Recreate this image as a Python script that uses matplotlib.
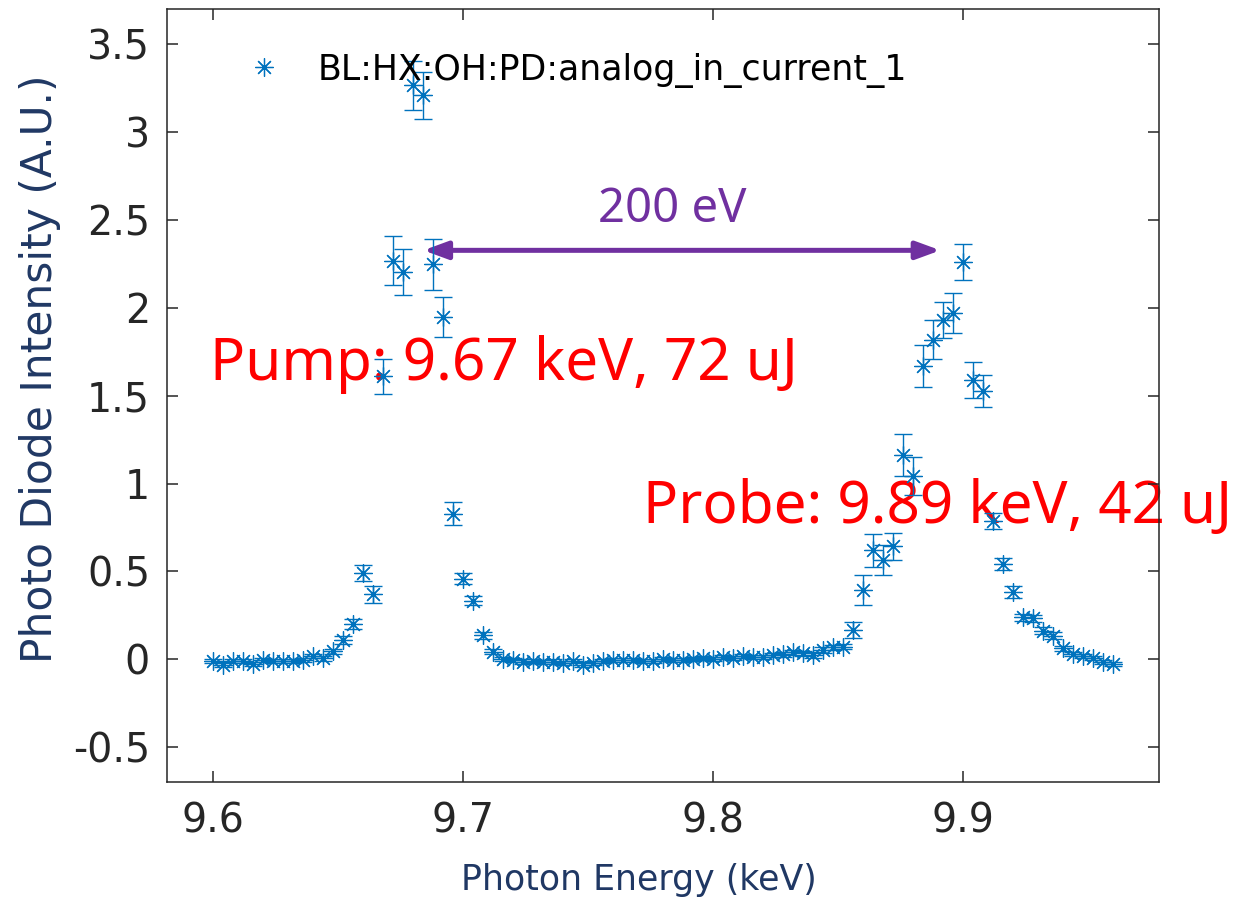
import matplotlib
matplotlib.use("Agg")
import matplotlib.pyplot as plt
from matplotlib.lines import Line2D

# DATA
energy = [9.600, 9.604, 9.608, 9.612, 9.616, 9.620, 9.624, 9.628, 9.632, 9.636,
          9.640, 9.644, 9.648, 9.652, 9.656, 9.660, 9.664, 9.668, 9.672, 9.676,
          9.680, 9.684, 9.688, 9.692, 9.696, 9.700, 9.704, 9.708, 9.712, 9.716,
          9.720, 9.724, 9.728, 9.732, 9.736, 9.740, 9.744, 9.748, 9.752, 9.756,
          9.760, 9.764, 9.768, 9.772, 9.776, 9.780, 9.784, 9.788, 9.792, 9.796,
          9.800, 9.804, 9.808, 9.812, 9.816, 9.820, 9.824, 9.828, 9.832, 9.836,
          9.840, 9.844, 9.848, 9.852, 9.856, 9.860, 9.864, 9.868, 9.872, 9.876,
          9.880, 9.884, 9.888, 9.892, 9.896, 9.900, 9.904, 9.908, 9.912, 9.916,
          9.920, 9.924, 9.928, 9.932, 9.936, 9.940, 9.944, 9.948, 9.952, 9.956,
          9.960]
intensity = [-0.010, -0.030, -0.010, -0.010, -0.025, -0.005, -0.010, -0.010, -0.010, -0.005,
             0.020, 0.005, 0.045, 0.110, 0.200, 0.490, 0.370, 1.610, 2.270, 2.205,
             3.267, 3.210, 2.250, 1.950, 0.830, 0.460, 0.333, 0.138, 0.043, 0.002,
             -0.004, -0.013, -0.010, -0.017, -0.013, -0.020, -0.010, -0.030, -0.020, -0.010,
             -0.004, -0.004, -0.004, -0.008, -0.010, 0.002, -0.004, -0.004, 0.002, 0.006,
             0.002, 0.013, 0.006, 0.017, 0.013, 0.013, 0.025, 0.028, 0.040, 0.034,
             0.024, 0.053, 0.068, 0.072, 0.167, 0.394, 0.620, 0.565, 0.644, 1.162,
             1.042, 1.670, 1.820, 1.930, 1.972, 2.262, 1.589, 1.528, 0.788, 0.542,
             0.385, 0.239, 0.233, 0.163, 0.133, 0.063, 0.030, 0.019, 0.006, -0.014,
             -0.027]
error = [0.012, 0.012, 0.012, 0.012, 0.012, 0.012, 0.012, 0.012, 0.012, 0.012,
         0.012, 0.012, 0.015, 0.020, 0.030, 0.045, 0.047, 0.097, 0.140, 0.130,
         0.140, 0.135, 0.145, 0.113, 0.064, 0.030, 0.025, 0.020, 0.015, 0.012,
         0.012, 0.012, 0.012, 0.012, 0.012, 0.012, 0.012, 0.012, 0.012, 0.012,
         0.012, 0.012, 0.012, 0.012, 0.012, 0.012, 0.012, 0.012, 0.012, 0.012,
         0.012, 0.012, 0.012, 0.012, 0.012, 0.012, 0.012, 0.012, 0.015, 0.015,
         0.015, 0.015, 0.015, 0.015, 0.047, 0.087, 0.095, 0.085, 0.076, 0.121,
         0.107, 0.118, 0.109, 0.102, 0.112, 0.104, 0.104, 0.093, 0.047, 0.035,
         0.035, 0.020, 0.020, 0.020, 0.020, 0.015, 0.012, 0.012, 0.012, 0.012,
         0.012]

legend_label = "BL:HX:OH:PD:analog_in_current_1"
xticks = [9.6, 9.7, 9.8, 9.9]
yticks = [-0.5, 0, 0.5, 1, 1.5, 2, 2.5, 3, 3.5]
arrow_ends = (9.6842, 9.8909)
arrow_y = 2.328

# STYLE
blue = "#0072BD"
dark = "#262626"
navy = "#203864"
purple = "#7030A0"
W, H = 1246, 901

plt.rcParams['axes.unicode_minus'] = False


def fpos(x, y):
    # pixel position in the reference -> figure fraction
    return x / W, 1 - y / H


fig = plt.figure(figsize=(W / 100, H / 100), dpi=100)
left, right, top, bottom = 166.7, 1159.3, 9.3, 782.3
ax = fig.add_axes([left / W, 1 - bottom / H, (right - left) / W, (bottom - top) / H])

asterisk = (8, 2, 0)
ax.errorbar(energy, intensity, yerr=error, fmt='none', ecolor=blue,
            elinewidth=1.0, capsize=6.5, capthick=1.0, zorder=4)
ax.plot(energy, intensity, linestyle='none', marker=asterisk, ms=13, mew=0.9,
        color=blue, zorder=5)

ax.set_xlim(9.5816, 9.9784)
ax.set_ylim(-0.7, 3.7)
ax.set_xticks(xticks)
ax.set_yticks(yticks)
ax.set_xticklabels([str(t) for t in xticks])
ax.set_yticklabels(["-0.5", "0", "0.5", "1", "1.5", "2", "2.5", "3", "3.5"])
ax.tick_params(direction='in', length=8, width=1.1, colors=dark, labelsize=28.5,
               top=True, right=True)
ax.tick_params(axis='y', pad=12)
ax.tick_params(axis='x', pad=14)
for s in ax.spines.values():
    s.set_color(dark)
    s.set_linewidth(1.1)

# legend (marker only, no frame)
h = Line2D([], [], linestyle='none', marker=asterisk, ms=13, mew=0.9, color=blue)
ax.legend([h], [legend_label], loc='center left', bbox_to_anchor=fpos(229, 70),
          bbox_transform=fig.transFigure, frameon=False, fontsize=25,
          handlelength=2, handletextpad=0.55, borderpad=0, borderaxespad=0)

# axis labels
fig.text(*fpos(40, 369), "Photo Diode Intensity (A.U.)", rotation=90, ha='center',
         va='center', fontsize=30.5, color=navy)
fig.text(*fpos(639, 880), "Photon Energy (keV)", ha='center', va='center',
         fontsize=25, color=navy)

# annotations (drawn under the data marks)
ax.annotate('', xy=(arrow_ends[0], arrow_y), xytext=(arrow_ends[1], arrow_y),
            arrowprops=dict(arrowstyle='<|-|>,head_length=0.6,head_width=0.22',
                            color=purple, lw=3.6, mutation_scale=24,
                            shrinkA=0, shrinkB=0), zorder=3)
ax.text(*fpos(598, 222), "200 eV", transform=fig.transFigure, ha='left',
        va='baseline', fontsize=34, color=purple, family='Noto Sans', zorder=3)
ax.text(*fpos(210, 380), "Pump: 9.67 keV, 72 uJ", transform=fig.transFigure,
        ha='left', va='baseline', fontsize=42, color='red', family='Noto Sans',
        zorder=1)
ax.text(*fpos(643, 523), "Probe: 9.89 keV, 42 uJ", transform=fig.transFigure,
        ha='left', va='baseline', fontsize=42, color='red', family='Noto Sans',
        zorder=1, clip_on=False)

fig.savefig("out.png", dpi=100)
